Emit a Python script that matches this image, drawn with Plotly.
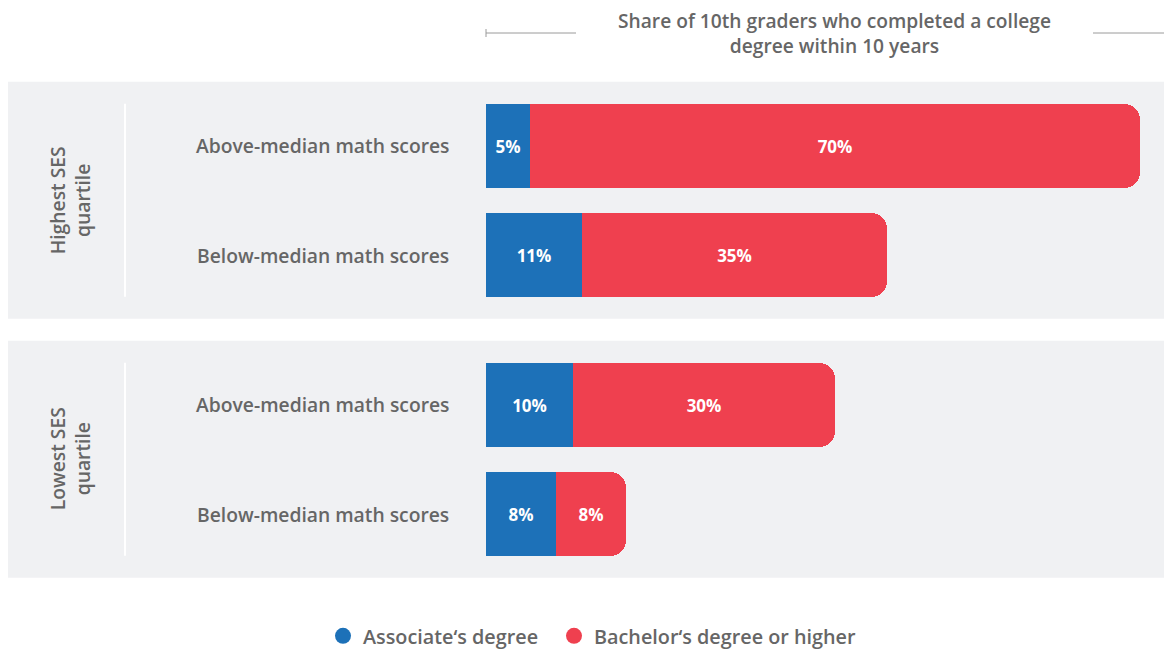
import plotly.graph_objects as go

# Data
groups = ["Highest SES<br>quartile", "Lowest SES<br>quartile"]
rows = ["Above-median math scores", "Below-median math scores"]
associate = [5, 11, 10, 8]
bachelor = [70, 35, 30, 8]
series_names = ["Associate‘s degree", "Bachelor‘s degree or higher"]
title_text = "Share of 10th graders who completed a college<br>degree within 10 years"

BLUE = "#1d71b8"
RED = "#ef404f"
PANEL = "#f0f1f3"
GREY = "#666666"
FONT = "Open Sans"

# the page has an 8px body margin; the figure starts 8px in from the window edge
VW, VH, PAD = 1172, 650, 8
W, H = VW - 2 * PAD, VH - PAD
RIGHT = PAD + W   # window pixel of the figure's right edge
X0 = 486          # window pixel where the bars start
PX_PER_PCT = 8.72

# vertical layout (y axis measured in window pixels from top)
first_row, row_step, group_step = 145.5, 109.5, 259
ypos = []
for gi in range(len(groups)):
    for ri in range(len(rows)):
        ypos.append(first_row + gi * group_step + ri * row_step)
labels = rows * len(groups)

def px_to_paper(px):
    return (px - X0) / (RIGHT - X0)

fig = go.Figure()

fig.add_trace(go.Bar(
    y=ypos, x=associate, orientation="h", width=84,
    marker=dict(color=BLUE, line=dict(width=0)),
    text=[f"{v}%" for v in associate], textposition="inside",
    insidetextanchor="middle", constraintext="none",
    textfont=dict(family=FONT, size=17, color="white", weight=700),
    showlegend=False, hoverinfo="skip",
))
fig.add_trace(go.Bar(
    y=ypos, x=bachelor, orientation="h", width=84,
    marker=dict(color=RED, line=dict(width=0), cornerradius=16),
    text=[f"{v}%" for v in bachelor], textposition="inside",
    insidetextanchor="middle", constraintext="none",
    textfont=dict(family=FONT, size=17, color="white", weight=700),
    showlegend=False, hoverinfo="skip",
))

# legend entries with round markers, one legend box per entry
legend_ids = ["legend", "legend2"]
for name, col, lg in zip(series_names, [BLUE, RED], legend_ids):
    fig.add_trace(go.Scatter(
        x=[None], y=[None], mode="markers", name=name, legend=lg,
        marker=dict(symbol="circle", size=17, color=col),
    ))

shapes = []
annotations = []
for gi, g in enumerate(groups):
    mid = (ypos[gi * 2] + ypos[gi * 2 + 1]) / 2
    shapes.append(dict(type="rect", xref="paper", yref="y", layer="below",
                       x0=px_to_paper(8), x1=1, y0=mid - 118.5, y1=mid + 118.5,
                       fillcolor=PANEL, line=dict(width=0)))
    shapes.append(dict(type="line", xref="paper", yref="y", layer="below",
                       x0=px_to_paper(125), x1=px_to_paper(125),
                       y0=mid - 96.5, y1=mid + 96.5,
                       line=dict(color="white", width=2)))
    annotations.append(dict(xref="paper", yref="y", x=px_to_paper(70), y=mid,
                            xanchor="center", yanchor="middle",
                            text=g, showarrow=False, textangle=-90,
                            font=dict(family=FONT, size=19.3, color=GREY, weight=600)))

for y, lab in zip(ypos, labels):
    annotations.append(dict(xref="paper", yref="y", x=px_to_paper(451), y=y,
                            xanchor="right", text=lab, showarrow=False,
                            font=dict(family=FONT, size=19.3, color=GREY, weight=600)))

# title with side rules
annotations.append(dict(xref="paper", yref="y", x=px_to_paper(834), y=33,
                        text=title_text, showarrow=False,
                        font=dict(family=FONT, size=19.2, color=GREY, weight=600)))
shapes += [
    dict(type="line", xref="paper", yref="y", x0=0, x1=px_to_paper(576), y0=33, y1=33,
         line=dict(color="#9a9a9a", width=1)),
    dict(type="line", xref="paper", yref="y", x0=0, x1=0, y0=29, y1=37,
         line=dict(color="#9a9a9a", width=1)),
    dict(type="line", xref="paper", yref="y", x0=px_to_paper(1093), x1=1, y0=33, y1=33,
         line=dict(color="#9a9a9a", width=1)),
]

legend_style = dict(orientation="h", xanchor="left", yanchor="middle",
                    y=(PAD + H - 636) / H,
                    font=dict(family=FONT, size=19.8, color=GREY, weight=600),
                    itemwidth=30, bgcolor="rgba(0,0,0,0)")

fig.update_layout(
    width=W, height=H,
    margin=dict(l=X0 - PAD, r=0, t=0, b=0, autoexpand=False),
    barmode="stack", bargap=0,
    plot_bgcolor="white", paper_bgcolor="white",
    xaxis=dict(range=[0, (RIGHT - X0) / PX_PER_PCT], visible=False, fixedrange=True),
    yaxis=dict(range=[PAD + H, PAD], visible=False, fixedrange=True),
    shapes=shapes, annotations=annotations,
    legend=dict(legend_style, x=px_to_paper(343 - 20)),
    legend2=dict(legend_style, x=px_to_paper(574 - 20)),
    showlegend=True,
)

fig.write_html("out.html")
